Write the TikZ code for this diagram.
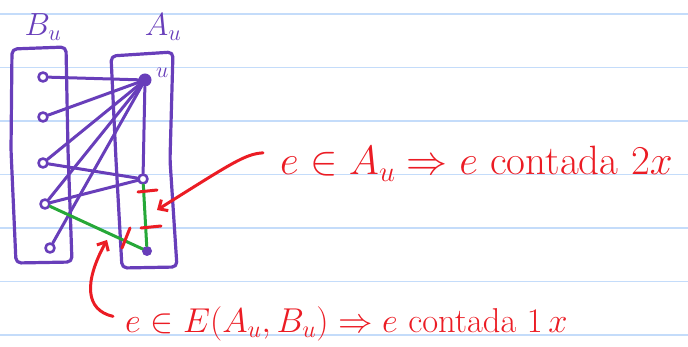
\RequirePackage{fix-cm}
\documentclass[tikz,border=0pt]{standalone}
\usepackage{tikz}
\usetikzlibrary{calc,arrows.meta,positioning}
\definecolor{penPurple}{RGB}{104,62,186}
\definecolor{penRed}{RGB}{235,28,36}
\definecolor{penGreen}{RGB}{38,168,56}
\definecolor{ruleBlue}{RGB}{196,220,250}

\begin{document}
\begin{tikzpicture}[x=1pt, y=-1pt, line cap=round, line join=round,
    vtx/.style={circle, draw=penPurple, fill=white, line width=2.6pt, inner sep=0, minimum size=9pt},
    vtxfull/.style={circle, fill=penPurple, inner sep=0, minimum size=13pt},
    pedge/.style={penPurple, line width=3pt},
    gedge/.style={penGreen, line width=3pt},
    redpen/.style={penRed, line width=3pt},
    setbox/.style={penPurple, line width=3.2pt, rounded corners=5pt},
    hand/.style={text=penRed, font=\fontsize{41}{43}\selectfont, inner sep=0}]
      \useasboundingbox (0,0) rectangle (688,347);
      % Ruled paper
      \foreach \y in {14,67.5,121,174.5,228,281.5,335}
        \draw[ruleBlue, line width=1.5pt] (0,\y) -- (688,\y);
      % The two sides
      \draw[setbox] (12,49) -- (66,47) -- (68,150) -- (72,262) -- (16,263) -- (11,150) -- cycle;
      \draw[setbox] (111,56) -- (173,52) -- (170,160) -- (177,267) -- (122,268) -- (116,160) -- cycle;
      \node[text=penPurple, font=\fontsize{32}{34}\selectfont] (lblB) at (43,27) {$B_u$};
      \node[text=penPurple, font=\fontsize{32}{34}\selectfont] (lblA) at (163,27) {$A_u$};
      % Vertices
      \node[vtx] (b1) at (43,77) {};
      \node[vtx] (b2) at (43,117) {};
      \node[vtx] (b3) at (43,163) {};
      \node[vtx] (b4) at (45,204) {};
      \node[vtx] (b5) at (50,248) {};
      \node[vtxfull] (u) at (145,80) {};
      \node[vtx] (a2) at (143,179) {};
      \node[vtxfull, minimum size=10pt] (a3) at (147,251) {};
      \node[text=penPurple, font=\fontsize{22}{24}\selectfont, right=1pt of u, yshift=7pt] (lblu) {$u$};
      % Edges at u
      \draw[pedge] (b1) -- (u);
      \draw[pedge] (b2) -- (u);
      \draw[pedge] (b3) -- (u);
      \draw[pedge] (b4) -- (u);
      \draw[pedge] (b5) -- (u);
      \draw[pedge] (u) -- (a2);
      \draw[pedge] (b3) -- (a2);
      \draw[pedge] (b4) -- (a2);
      % Edges e
      \draw[gedge] (b4) -- (a3);
      \draw[gedge] (a2) -- (a3);
      % Tally marks
      \draw[redpen] (138,192) -- (157,190);
      \draw[redpen] (141,228) -- (161,226);
      \draw[redpen] (130,228) -- (122,248);
      % Notes
      \node[hand, anchor=base west] (noteA) at (280,175) {$e \in A_u \Rightarrow e$ contada $2x$};
      \node[hand, font=\fontsize{34.5}{36}\selectfont, anchor=base west] (noteE) at (125,332) {$e \in E(A_u, B_u) \Rightarrow e$ contada $1\,x$};
      \coordinate (tipA) at (157,210);
      \coordinate (tipE) at (107,240);
      \draw[redpen, -{Straight Barb[length=7pt, width=13pt]}] ($(noteA.west)+(-17,-11)$) .. controls (245,154) and (232,163) .. (tipA);
      \draw[redpen, -{Straight Barb[length=7pt, width=13pt]}] ($(noteE.west)+(-12,-7)$) .. controls (85,310) and (84,282) .. (tipE);
    \end{tikzpicture}
\end{document}
